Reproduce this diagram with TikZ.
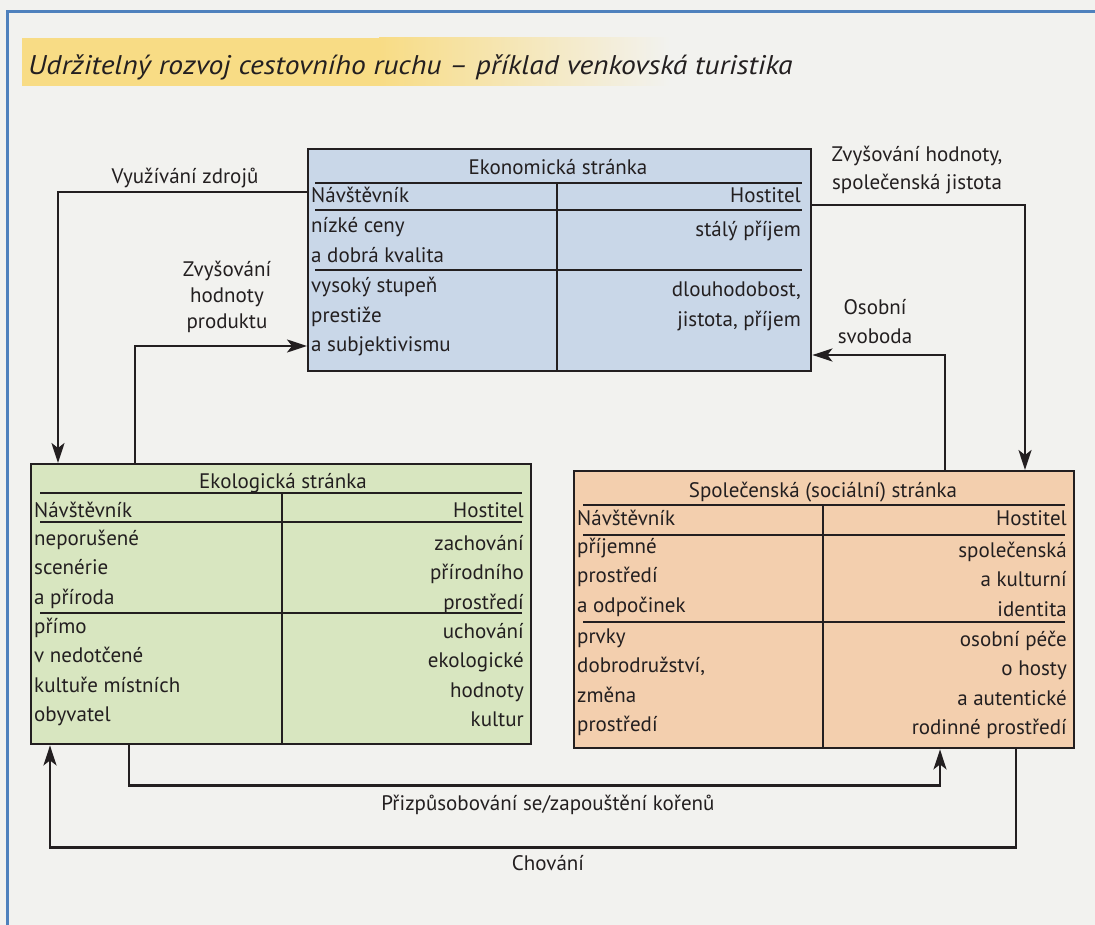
\documentclass[tikz,border=0pt]{standalone}
\usepackage{fontspec}
\usepackage{graphicx}
\setmainfont{PT Sans}
\usetikzlibrary{arrows.meta,calc}

\definecolor{bg}{HTML}{F2F2EF}
\definecolor{frameblue}{HTML}{4F81BD}
\definecolor{econfill}{HTML}{C9D7E8}
\definecolor{ecofill}{HTML}{D8E6C0}
\definecolor{socfill}{HTML}{F3CFAE}
\definecolor{hl}{HTML}{F8DC85}
\definecolor{ink}{HTML}{231F20}

\tikzset{
  panel/.style={draw=ink, line width=2.4pt, rectangle, inner sep=0pt, anchor=north west},
  rule/.style={draw=ink, line width=2.4pt},
  txt/.style={text=ink, font=\fontsize{21}{29.5}\selectfont, inner sep=0pt},
  lft/.style={txt, anchor=base west, align=left},
  rgt/.style={txt, anchor=base east, align=right},
  ttl/.style={txt, anchor=base},
  lbl/.style={txt, anchor=base, align=center},
  arr/.style={draw=ink, line width=2.4pt, -{Stealth[length=20pt,width=13pt,inset=5pt]}},
}

\begin{document}
\begin{tikzpicture}[x=1pt,y=-1pt]
\useasboundingbox (0,0) rectangle (1095,925);
\fill[bg] (0,0) rectangle (1095,925);
\draw[frameblue, line width=3pt] (7,925) -- (7,12) -- (1095,12);

% title highlight
\fill[hl] (22,38) rectangle (380,86);
\shade[left color=hl, right color=bg] (379,38) rectangle (670,86);
\node[txt, anchor=base west, font=\fontsize{27}{30}\selectfont\itshape] (title) at (28,75)
  {\scalebox{1.095}[1]{Udržitelný rozvoj cestovního ruchu – příklad venkovská turistika}};

% ---------------- Economic box
\node[panel, fill=econfill, minimum width=503pt, minimum height=222pt] (econ) at (307,148) {};
\node[ttl] (econT) at (558,175) {Ekonomická stránka};
\draw[rule] (315,183) -- (802,183);
\draw[rule] (315,210) -- (802,210);
\draw[rule] (315,270) -- (802,270);
\draw[rule] (557,183) -- (557,370);
\node[lft] (econV) at (311,203) {Návštěvník};
\node[rgt] (econH) at (801,203) {Hostitel};
\node[lft] (econV1) at (311,262.5) {nízké ceny\\a dobrá kvalita};
\node[rgt] (econH1) at (801,237) {stálý příjem};
\node[lft] (econV2) at (311,352) {vysoký stupeň\\prestiže\\a subjektivismu};
\node[rgt] (econH2) at (801,326.5) {dlouhodobost,\\jistota, příjem};

% ---------------- Ecological box
\node[panel, fill=ecofill, minimum width=500pt, minimum height=280pt] (eco) at (30,463) {};
\node[ttl] (ecoT) at (283,488) {Ekologická stránka};
\draw[rule] (40,493) -- (522,493);
\draw[rule] (40,522) -- (522,522);
\draw[rule] (40,613) -- (522,613);
\draw[rule] (282,493) -- (282,743);
\node[lft] (ecoV) at (34,517) {Návštěvník};
\node[rgt] (ecoH) at (524,517) {Hostitel};
\node[lft] (ecoV1) at (34,604) {neporušené\\scenérie\\a příroda};
\node[rgt] (ecoH1) at (524,609) {zachování\\přírodního\\prostředí};
\node[lft] (ecoV2) at (34,721.5) {přímo\\v nedotčené\\kultuře místních\\obyvatel};
\node[rgt] (ecoH2) at (524,726.5) {uchování\\ekologické\\hodnoty\\kultur};

% ---------------- Social box
\node[panel, fill=socfill, minimum width=500pt, minimum height=277pt] (soc) at (573,470) {};
\node[ttl] (socT) at (823,497) {Společenská (sociální) stránka};
\draw[rule] (583,505) -- (1065,505);
\draw[rule] (583,535) -- (1065,535);
\draw[rule] (583,622) -- (1065,622);
\draw[rule] (823,505) -- (823,747);
\node[lft] (socV) at (577,525) {Návštěvník};
\node[rgt] (socH) at (1067,525) {Hostitel};
\node[lft] (socV1) at (577,612) {příjemné\\prostředí\\a odpočinek};
\node[rgt] (socH1) at (1067,616) {společenská\\a kulturní\\identita};
\node[lft] (socV2) at (577,731.5) {prvky\\dobrodružství,\\změna\\prostředí};
\node[rgt] (socH2) at (1067,734.5) {osobní péče\\o hosty\\a autentické\\rodinné prostředí};

% ---------------- Connectors
\draw[arr] ($(econ.north west)+(0,44)$) -| ($(eco.north west)+(28,0)$);
\node[lbl] (lVyuz) at (185,184) {Využívání zdrojů};

\draw[arr] ($(eco.north west)+(105,0)$) |- ($(econ.north west)+(0,198)$);
\node[lbl, font=\fontsize{21}{26}\selectfont] (lProd) at (227,329) {Zvyšování\\hodnoty\\produktu};

\draw[arr] ($(econ.north east)+(0,57)$) -| ($(soc.north west)+(452,0)$);
\node[lbl, font=\fontsize{21}{28}\selectfont] (lSpol) at (917,190) {Zvyšování hodnoty,\\společenská jistota};

\draw[arr] ($(soc.north west)+(372,0)$) |- ($(econ.north east)+(0,207)$);
\node[lbl] (lOsob) at (875,344) {Osobní\\svoboda};

\draw[arr] ($(eco.south west)+(99,0)$) -- ++(0,40) -| ($(soc.south west)+(367,0)$);
\node[lbl] (lPriz) at (548,810) {Přizpůsobování se/zapouštění kořenů};

\draw[arr] ($(soc.south west)+(443,0)$) -- ++(0,98) -| ($(eco.south west)+(20,0)$);
\node[lbl] (lChov) at (548,870) {Chování};
\end{tikzpicture}
\end{document}
